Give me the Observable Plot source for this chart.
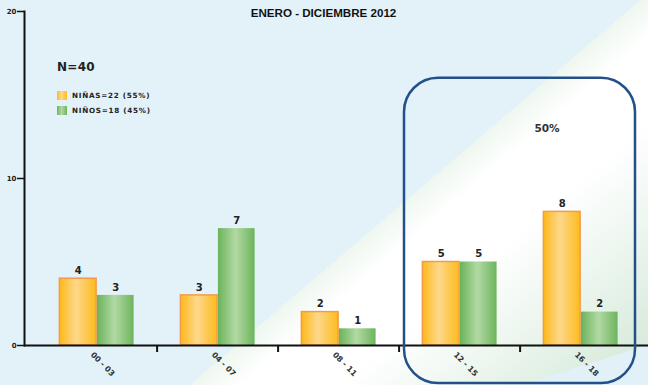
<!DOCTYPE html>
<html>
<head>
<meta charset="utf-8">
<script src="https://cdn.jsdelivr.net/npm/d3@7"></script>
<script src="https://cdn.jsdelivr.net/npm/@observablehq/plot@0.6"></script>
<style>
  html, body { margin: 0; padding: 0; }
  #wrap {
    position: relative; width: 648px; height: 385px; overflow: hidden;
    background:
      linear-gradient(162.6deg, rgba(226,241,248,0) 93.2%, #e2f1f8 93.2%),
      linear-gradient(139.5deg, #e3f1f8 0%, #e3f1f8 58.3%, #eef7ef 58.3%, #ffffff 63%, #ffffff 72%, #d5eada 97%);
    font-family: "DejaVu Sans", sans-serif;
  }
  #wrap svg { position: absolute; left: 0; top: 0; background: transparent; }
  .legend { position: absolute; left: 57px; font-size: 7.2px; font-weight: bold; letter-spacing: 0.75px; color: #222; display: flex; align-items: center; }
  .sw { width: 10px; height: 9px; margin-right: 5px; }
  #n40 { position: absolute; left: 57px; top: 60px; font-size: 12px; font-weight: bold; color: #222; letter-spacing: 0.3px; }
</style>
</head>
<body>
<div id="wrap">
  <div id="n40">N=40</div>
  <div class="legend" style="top:91px"><div class="sw" style="background:linear-gradient(90deg,#fdbb1e,#fed78a 45%,#fdbd22)"></div>NIÑAS=22 (55%)</div>
  <div class="legend" style="top:106px"><div class="sw" style="background:linear-gradient(90deg,#6cb45c,#b1d8a3 45%,#6fb55e)"></div>NIÑOS=18 (45%)</div>
</div>
<script>
const categories = ["00 - 03", "04 - 07", "08 - 11", "12 - 15", "16 - 18"];
const ninas = [4, 3, 2, 5, 8];
const ninos = [3, 7, 1, 5, 2];
const yTicks = [0, 10, 20];
const title = "ENERO - DICIEMBRE 2012";
const highlightLabel = "50%";

const dataNinas = categories.map((c, i) => ({grupo: c, sexo: "NIÑAS", n: ninas[i]}));
const dataNinos = categories.map((c, i) => ({grupo: c, sexo: "NIÑOS", n: ninos[i]}));

const W = 648, H = 385;
const mL = 24, mR = 0, mT = 11, mB = 40, inL = 10, inR = 5;
const step = (W - mL - mR - inL - inR) / categories.length;
const bw = 37.5;
const font = "DejaVu Sans, sans-serif";

const plot = Plot.plot({
  width: W, height: H,
  marginLeft: mL, marginRight: mR, marginTop: mT, marginBottom: mB,
  style: {background: "transparent", fontFamily: font, overflow: "visible"},
  x: {domain: categories, padding: 0, insetLeft: inL, insetRight: inR, axis: null, label: null},
  y: {domain: [0, 20], axis: null, label: null},
  marks: [
    Plot.barY(dataNinas, {x: "grupo", y: "n", fill: "url(#gOr)", stroke: "#f49a48", strokeWidth: 1.5,
      insetLeft: step / 2 - bw, insetRight: step / 2}),
    Plot.barY(dataNinos, {x: "grupo", y: "n", fill: "url(#gGr)",
      insetLeft: step / 2, insetRight: step / 2 - bw}),
    Plot.text(dataNinas, {x: "grupo", y: "n", text: d => String(d.n), dx: -bw / 2, dy: -8,
      fontSize: 10, fontWeight: "bold", fill: "#222"}),
    Plot.text(dataNinos, {x: "grupo", y: "n", text: d => String(d.n), dx: bw / 2, dy: -8,
      fontSize: 10, fontWeight: "bold", fill: "#222"}),
    Plot.ruleY([0], {stroke: "#111", strokeWidth: 2}),
    Plot.ruleX(categories.slice(1), {x: d => d, y1: 0, y2: -0.42, dx: -step / 2, stroke: "#111", strokeWidth: 2}),
    Plot.frame({anchor: "left", stroke: "#111", strokeWidth: 2}),
    Plot.axisY({ticks: yTicks, label: null, tickSize: 7, tickPadding: 1, fontSize: 7, fontWeight: "bold", stroke: "#111", strokeWidth: 1.5, fill: "#222"}),
    Plot.axisX({label: null, tickSize: 0, tickRotate: 45, tickPadding: 8, dx: -5, fontSize: 7.8, fontWeight: "bold", fill: "#333"}),
    Plot.text([title], {frameAnchor: "top", dx: -13, dy: -3, fontSize: 11.6, fontWeight: "bold",
      fontFamily: "Liberation Sans, Arial, sans-serif", fill: "#111"}),
    Plot.text([highlightLabel], {x: () => categories[4], y: () => 13, dx: -34, fontSize: 10.5, fontWeight: "bold", fill: "#333"})
  ]
});

const svg = d3.select(plot);
const defs = svg.insert("defs", ":first-child");
const gOr = defs.append("linearGradient").attr("id", "gOr").attr("x1", 0).attr("x2", 1).attr("y1", 0).attr("y2", 0);
gOr.append("stop").attr("offset", "0%").attr("stop-color", "#fdb918");
gOr.append("stop").attr("offset", "45%").attr("stop-color", "#fed88c");
gOr.append("stop").attr("offset", "100%").attr("stop-color", "#fdbb1c");
const gGr = defs.append("linearGradient").attr("id", "gGr").attr("x1", 0).attr("x2", 1).attr("y1", 0).attr("y2", 0);
gGr.append("stop").attr("offset", "0%").attr("stop-color", "#6ab35a");
gGr.append("stop").attr("offset", "48%").attr("stop-color", "#b2d9a4");
gGr.append("stop").attr("offset", "100%").attr("stop-color", "#6db45c");

// highlight box around the last two groups, positioned from the scales
const xs = plot.scale("x"), ys = plot.scale("y");
const bx1 = xs.apply(categories[3]) + 5;
const bx2 = xs.apply(categories[4]) + xs.bandwidth - 6;
const by1 = ys.apply(16);
const by2 = H - 2;
svg.append("rect").attr("x", bx1).attr("y", by1).attr("width", bx2 - bx1).attr("height", by2 - by1)
  .attr("rx", 34).attr("ry", 34).attr("fill", "none").attr("stroke", "#24508a").attr("stroke-width", 2.5);

document.getElementById("wrap").appendChild(plot);
</script>
</body>
</html>
